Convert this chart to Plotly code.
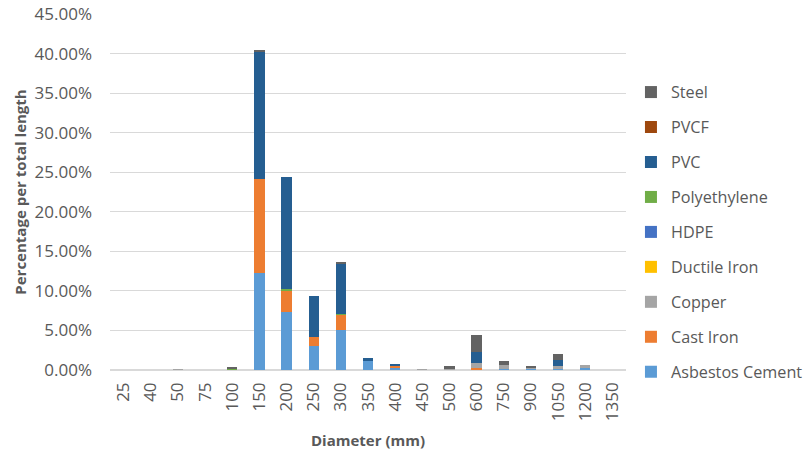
import plotly.graph_objects as go

# Pipe diameters (mm) on the category axis
diameters = ["25", "40", "50", "75", "100", "150", "200", "250", "300", "350",
             "400", "450", "500", "600", "750", "900", "1050", "1200", "1350"]

# Share of total network length (%) per material and diameter
asbestos_cement = [0, 0, 0, 0, 0.03, 12.25, 7.36, 3.07, 5.05, 1.26, 0.35, 0, 0, 0.10, 0.10, 0.14, 0.14, 0.22, 0]
cast_iron       = [0, 0, 0, 0, 0, 11.90, 2.74, 1.13, 1.98, 0, 0.13, 0, 0, 0.15, 0, 0, 0, 0, 0]
copper          = [0, 0, 0.02, 0, 0, 0, 0, 0, 0, 0, 0, 0.04, 0.10, 0.60, 0.55, 0.22, 0.40, 0.37, 0]
ductile_iron    = [0, 0, 0, 0, 0, 0, 0, 0, 0, 0, 0, 0, 0, 0, 0, 0, 0, 0, 0]
hdpe            = [0, 0, 0, 0, 0, 0, 0, 0, 0, 0, 0, 0, 0, 0, 0, 0, 0, 0, 0]
polyethylene    = [0, 0, 0, 0, 0.22, 0, 0.15, 0, 0.05, 0, 0, 0, 0, 0, 0, 0, 0, 0, 0]
pvc             = [0, 0, 0, 0, 0, 16.15, 14.15, 5.18, 6.39, 0.22, 0.28, 0, 0, 1.46, 0, 0, 0.72, 0, 0]
pvcf            = [0, 0, 0, 0, 0, 0, 0, 0, 0, 0, 0, 0, 0, 0, 0, 0, 0, 0, 0]
steel           = [0, 0, 0, 0, 0.02, 0.10, 0, 0, 0.20, 0, 0, 0, 0.44, 2.11, 0.45, 0.18, 0.76, 0, 0]

series = [
    ("Asbestos Cement", asbestos_cement, "#5B9BD5"),
    ("Cast Iron", cast_iron, "#ED7D31"),
    ("Copper", copper, "#A5A5A5"),
    ("Ductile Iron", ductile_iron, "#FFC000"),
    ("HDPE", hdpe, "#4472C4"),
    ("Polyethylene", polyethylene, "#70AD47"),
    ("PVC", pvc, "#255E91"),
    ("PVCF", pvcf, "#9E480E"),
    ("Steel", steel, "#636363"),
]

FONT = "'Open Sans', sans-serif"
GREY = "#595959"

fig = go.Figure()
for i, (name, vals, color) in enumerate(series):
    fig.add_trace(go.Bar(
        x=diameters, y=vals, name=name, legendgroup=name,
        legendrank=100 - i,  # top of the stack listed first
        marker=dict(color=color, line=dict(width=0)),
    ))

fig.update_layout(
    width=811, height=452,
    barmode="stack", bargap=0.62,
    plot_bgcolor="white", paper_bgcolor="white",
    margin=dict(l=110, r=185, t=14, b=82, autoexpand=False),
    font=dict(family=FONT, color=GREY, size=15),
    legend=dict(
        traceorder="grouped", tracegroupgap=10.9,
        xref="container", yref="container",
        x=0.778, xanchor="left", y=0.834, yanchor="top",
        font=dict(size=16.2, color=GREY),
        itemwidth=30, maxheight=452,
    ),
    showlegend=True,
)

fig.update_yaxes(
    range=[0, 45], dtick=5, tickformat=".2f", ticksuffix="%",
    gridcolor="#D9D9D9", gridwidth=1, zeroline=True, zerolinecolor="#D9D9D9",
    showline=False, ticks="", tickfont=dict(size=17, color=GREY),
    ticklabelstandoff=17, automargin=False,
    title=dict(text="<b>Percentage per total length</b>", font=dict(size=15, color=GREY), standoff=4),
)
fig.update_xaxes(
    type="category", tickangle=-90, showgrid=False, showline=False, ticks="",
    tickfont=dict(size=17, color=GREY), automargin=False, ticklabelstandoff=8,
    title=dict(text="<b>Diameter (mm)</b>", font=dict(size=15, color=GREY), standoff=15),
)

fig.write_html("out.html")
